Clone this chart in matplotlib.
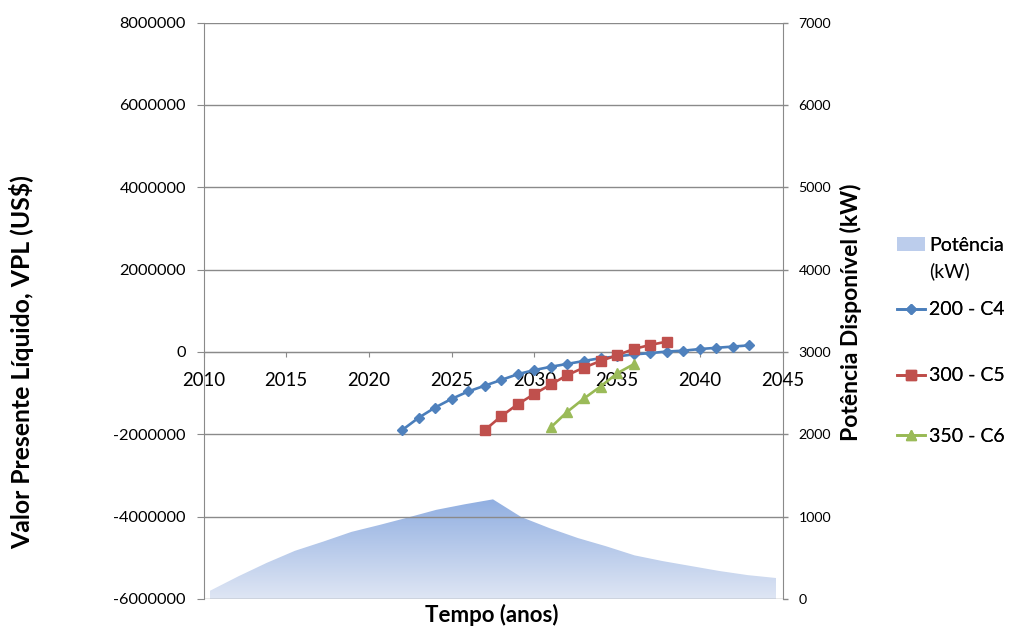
import numpy as np
import matplotlib
matplotlib.use("Agg")
import matplotlib.pyplot as plt
from matplotlib.colors import LinearSegmentedColormap
from matplotlib.patches import Patch

# Net present value per scenario (US$)
years_c4 = list(range(2022, 2044))
vpl_c4 = [-1.90e6, -1.60e6, -1.35e6, -1.14e6, -0.96e6, -0.82e6, -0.68e6, -0.54e6,
          -0.44e6, -0.36e6, -0.29e6, -0.22e6, -0.15e6, -0.11e6, -0.06e6, -0.03e6,
          0.01e6, 0.03e6, 0.07e6, 0.10e6, 0.13e6, 0.16e6]
years_c5 = list(range(2027, 2039))
vpl_c5 = [-1.90e6, -1.56e6, -1.27e6, -1.02e6, -0.79e6, -0.56e6, -0.38e6, -0.22e6,
          -0.08e6, 0.07e6, 0.17e6, 0.25e6]
years_c6 = list(range(2031, 2037))
vpl_c6 = [-1.83e6, -1.45e6, -1.13e6, -0.84e6, -0.52e6, -0.30e6]

# Available power profile (kW), evenly spaced samples
potencia = [100, 275, 438, 585, 697, 815, 900, 990, 1083, 1150, 1210,
            995, 860, 740, 640, 530, 460, 400, 340, 290, 255]

labels = ["200 - C4", "300 - C5", "350 - C6"]
x_ticks = list(range(2010, 2050, 5))
y_ticks = list(range(-6000000, 8000001, 2000000))
y2_ticks = list(range(0, 7001, 1000))

FONT = "Lato"
GRAY = "#8a8a8a"
W, H = 1010, 632
fig = plt.figure(figsize=(W / 100, H / 100), dpi=100)
rect = [203.5 / W, (H - 599) / H, 579 / W, 576.5 / H]

# Secondary axes: power area (right axis)
axa = fig.add_axes(rect, zorder=0)
n = len(potencia)
idx = np.arange(n)
axa.set_xlim(-0.23, n - 1 + 0.23)
axa.set_ylim(0, 7000)
poly = axa.fill_between(idx, potencia, 0, facecolor="none", edgecolor="none")
cmap = LinearSegmentedColormap.from_list("pot", ["#dfe6f4", "#91afe1"])
grad = np.linspace(0, 1, 256).reshape(-1, 1)
img = axa.imshow(grad, extent=[0, n - 1, 0, max(potencia)], origin="lower",
                 aspect="auto", cmap=cmap, zorder=1)
img.set_clip_path(poly.get_paths()[0], transform=axa.transData)
axa.xaxis.set_visible(False)
axa.yaxis.tick_right()
axa.set_yticks(y2_ticks, [str(v) for v in y2_ticks])
axa.tick_params(axis="y", direction="out", length=3.5, width=1, color=GRAY, pad=8,
                labelsize=10.2, labelfontfamily=FONT)
for s in ["left", "top", "bottom"]:
    axa.spines[s].set_visible(False)
axa.spines["right"].set_color(GRAY)

# Primary axes: NPV curves
ax = fig.add_axes(rect, zorder=1)
ax.patch.set_visible(False)
ax.spines["bottom"].set_position(("data", 0))
ax.spines["bottom"].set_color(GRAY)
ax.spines["left"].set_color(GRAY)
ax.spines["top"].set_visible(False)
ax.spines["right"].set_visible(False)
ax.set_xlim(2010, 2045)
ax.set_ylim(-6000000, 8000000)
ax.set_yticks(y_ticks, [str(v) for v in y_ticks])
ax.set_xticks(x_ticks, [str(v) for v in x_ticks])
ax.grid(axis="y", color=GRAY, linewidth=1)
ax.set_axisbelow(True)
ax.tick_params(axis="y", direction="out", length=4.7, color=GRAY, pad=8,
               labelsize=11.8, labelfontfamily=FONT)
ax.tick_params(axis="x", direction="out", length=3.6, color=GRAY, pad=11,
               labelsize=13.4, labelfontfamily=FONT)

l4, = ax.plot(years_c4, vpl_c4, color="#4a7ebb", lw=1.9, marker="D", ms=5.0,
              mfc="#4f81bd", mec="#4f81bd", zorder=5)
l5, = ax.plot(years_c5, vpl_c5, color="#be4b48", lw=1.9, marker="s", ms=6.5,
              mfc="#c0504d", mec="#c0504d", zorder=5)
l6, = ax.plot(years_c6, vpl_c6, color="#98b954", lw=1.9, marker="^", ms=7.2,
              mfc="#9bbb59", mec="#9bbb59", zorder=5)

# Axis titles
fig.text(22 / W, 1 - 362 / H, "Valor Presente Líquido, VPL (US$)", rotation=90,
         ha="center", va="center", fontfamily=FONT, fontweight="bold", fontsize=17.8)
fig.text(851 / W, 1 - 312 / H, "Potência Disponível (kW)", rotation=90,
         ha="center", va="center", fontfamily=FONT, fontweight="bold", fontsize=16.5)
fig.text(492 / W, 1 - 615 / H, "Tempo (anos)", ha="center", va="center",
         fontfamily=FONT, fontweight="bold", fontsize=16)

# Legend entries
leg_fs = 14
common = dict(loc="center left", frameon=False, borderpad=0, borderaxespad=0,
              handlelength=1.45, handletextpad=0.2, prop={"family": FONT, "size": leg_fs})
area_handle = Patch(facecolor="#bccdec", edgecolor="none")
lg0 = fig.legend([area_handle], ["Potência"], bbox_to_anchor=(897 / W, 1 - 245 / H), **common)
fig.add_artist(lg0)
fig.text(929 / W, 1 - 271 / H, "(kW)", ha="left", va="center", fontfamily=FONT, fontsize=leg_fs)
for line, lab, yy in zip([l4, l5, l6], labels, [310, 376, 436]):
    lg = fig.legend([line], [lab], bbox_to_anchor=(897 / W, 1 - yy / H), **common)
    fig.add_artist(lg)

fig.savefig("out.png", dpi=100)
